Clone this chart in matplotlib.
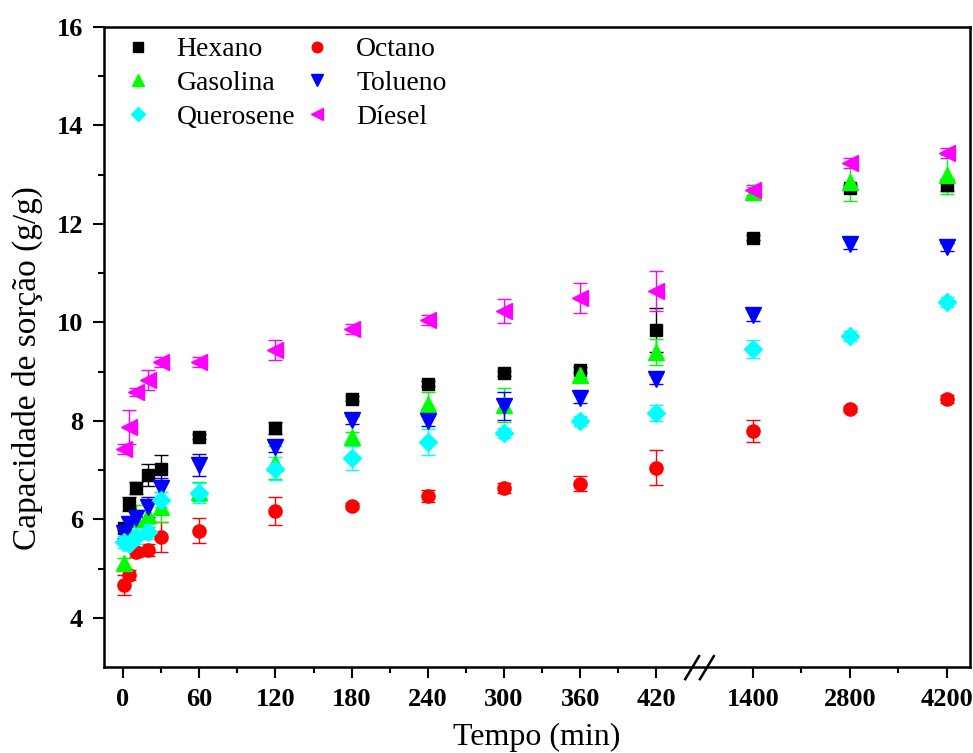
import numpy as np
import matplotlib
matplotlib.use("Agg")
import matplotlib.pyplot as plt
from matplotlib.lines import Line2D
from matplotlib.ticker import FixedLocator

plt.rcParams["font.family"] = ["Liberation Serif", "DejaVu Serif"]

# sorption capacity (g/g) vs contact time (min)
TIME = [1, 5, 10, 20, 30, 60, 120, 180, 240, 300, 360, 420, 1400, 2800, 4200]

HEXANO     = [5.83, 6.31, 6.64, 6.90, 7.03, 7.68, 7.86, 8.45, 8.75, 8.97, 9.04, 9.85, 11.72, 12.74, 12.79]
HEXANO_ERR = [0.05, 0.15, 0.12, 0.23, 0.27, 0.05, 0.12, 0.05, 0.05, 0.05, 0.05, 0.45, 0.05, 0.05, 0.12]

OCTANO     = [4.67, 4.87, 5.34, 5.38, 5.64, 5.77, 6.17, 6.27, 6.48, 6.64, 6.72, 7.05, 7.80, 8.24, 8.44]
OCTANO_ERR = [0.20, 0.10, 0.10, 0.12, 0.30, 0.25, 0.28, 0.07, 0.12, 0.10, 0.15, 0.35, 0.22, 0.07, 0.08]

GASOLINA     = [5.12, 5.70, 6.00, 6.09, 6.25, 6.56, 7.15, 7.68, 8.35, 8.32, 8.93, 9.40, 12.65, 12.85, 13.00]
GASOLINA_ERR = [0.10, 0.30, 0.30, 0.25, 0.30, 0.19, 0.34, 0.10, 0.24, 0.34, 0.05, 0.27, 0.10, 0.38, 0.40]

TOLUENO     = [5.73, 5.90, 6.03, 6.25, 6.64, 7.11, 7.47, 8.02, 8.00, 8.30, 8.47, 8.85, 10.15, 11.60, 11.53]
TOLUENO_ERR = [0.10, 0.15, 0.15, 0.20, 0.20, 0.22, 0.10, 0.08, 0.10, 0.28, 0.10, 0.10, 0.12, 0.10, 0.08]

QUEROSENE     = [5.54, 5.50, 5.65, 5.75, 6.40, 6.54, 7.03, 7.25, 7.57, 7.75, 8.00, 8.16, 9.46, 9.72, 10.42]
QUEROSENE_ERR = [0.12, 0.12, 0.15, 0.15, 0.15, 0.20, 0.24, 0.24, 0.26, 0.10, 0.10, 0.17, 0.18, 0.10, 0.10]

DIESEL     = [7.42, 7.88, 8.59, 8.83, 9.20, 9.20, 9.44, 9.87, 10.05, 10.23, 10.50, 10.64, 12.69, 13.24, 13.44]
DIESEL_ERR = [0.10, 0.35, 0.08, 0.20, 0.10, 0.10, 0.20, 0.10, 0.10, 0.25, 0.30, 0.40, 0.10, 0.10, 0.10]

SERIES = [
    ("Hexano",    HEXANO,    HEXANO_ERR,    "s", "#000000", 9),
    ("Octano",    OCTANO,    OCTANO_ERR,    "o", "#ff0000", 9.5),
    ("Gasolina",  GASOLINA,  GASOLINA_ERR,  "^", "#00ff00", 11),
    ("Tolueno",   TOLUENO,   TOLUENO_ERR,   "v", "#0000ff", 11),
    ("Querosene", QUEROSENE, QUEROSENE_ERR, "D", "#00ffff", 9),
    ("Díesel",    DIESEL,    DIESEL_ERR,    "<", "#ff00ff", 11),
]

MAJOR_TICKS = [0, 60, 120, 180, 240, 300, 360, 420, 1400, 2800, 4200]
MINOR_TICKS = [30, 90, 150, 210, 270, 330, 390, 2100, 3500]

# broken time axis: linear up to 420 min, compressed gap, then 1400 min per step
GAP_U0, GAP_T0 = 420.0, 420.0
GAP_U1, GAP_T1 = 496.0, 1400.0
LONG_STEP_U = 76.4


def fwd(t):
    t = np.asarray(t, dtype=float)
    mid = GAP_U0 + (t - GAP_T0) * (GAP_U1 - GAP_U0) / (GAP_T1 - GAP_T0)
    far = GAP_U1 + (t - GAP_T1) * LONG_STEP_U / 1400.0
    return np.where(t <= GAP_T0, t, np.where(t <= GAP_T1, mid, far))


def inv(u):
    u = np.asarray(u, dtype=float)
    mid = GAP_T0 + (u - GAP_U0) * (GAP_T1 - GAP_T0) / (GAP_U1 - GAP_U0)
    far = GAP_T1 + (u - GAP_U1) * 1400.0 / LONG_STEP_U
    return np.where(u <= GAP_U0, u, np.where(u <= GAP_U1, mid, far))


fig = plt.figure(figsize=(9.73, 7.53), dpi=100)
ax = fig.add_axes([0.1069, 0.1142, 0.8900, 0.8499])
ax.set_xscale("function", functions=(fwd, inv))

for name, vals, err, mk, col, ms in SERIES:
    ax.errorbar(TIME, vals, yerr=err, fmt=mk, color=col, mfc=col, mec=col,
                ms=ms, elinewidth=1.0, capsize=5, capthick=1.0, zorder=3)

ax.set_xlim(float(inv(-15.0)), float(inv(667.0)))
ax.set_ylim(3, 16)

ax.xaxis.set_major_locator(FixedLocator(MAJOR_TICKS))
ax.xaxis.set_minor_locator(FixedLocator(MINOR_TICKS))
ax.set_xticklabels([str(t) for t in MAJOR_TICKS])
ax.set_yticks([4, 6, 8, 10, 12, 14, 16])
ax.yaxis.set_minor_locator(FixedLocator([5, 7, 9, 11, 13, 15]))

ax.tick_params(which="major", direction="out", length=8, width=1.5, labelsize=19, pad=7)
ax.tick_params(which="minor", direction="out", length=4.5, width=1.5)
for lbl in ax.get_xticklabels() + ax.get_yticklabels():
    lbl.set_fontweight("bold")

for sp in ax.spines.values():
    sp.set_linewidth(1.8)

ax.set_xlabel("Tempo (min)", fontsize=23, labelpad=9)
ax.set_ylabel("Capacidade de sorção (g/g)", fontsize=24)
ax.yaxis.set_label_coords(-0.07, 0.467)

# break marks on the bottom axis
xb = ax.transAxes.inverted().transform(ax.transData.transform((inv(454.0), 3)))[0]
for off in (-0.0085, 0.0085):
    ax.add_line(Line2D([xb + off - 0.008, xb + off + 0.008], [-0.019, 0.017],
                       transform=ax.transAxes, color="black", lw=1.8, clip_on=False))

# legend: markers only, filled column-wise
handles = {name: Line2D([], [], linestyle="none", marker=mk, color=col, ms=ms * 0.8)
           for name, vals, err, mk, col, ms in SERIES}
order = ["Hexano", "Gasolina", "Querosene", "Octano", "Tolueno", "Díesel"]
ax.legend([handles[n] for n in order], order, ncol=2, loc="upper left",
          frameon=False, fontsize=20, handlelength=1.0, handletextpad=0.9,
          columnspacing=0.3, labelspacing=0.3, borderaxespad=0.0,
          bbox_to_anchor=(0.01, 1.002))

fig.savefig("out.png", dpi=100)
